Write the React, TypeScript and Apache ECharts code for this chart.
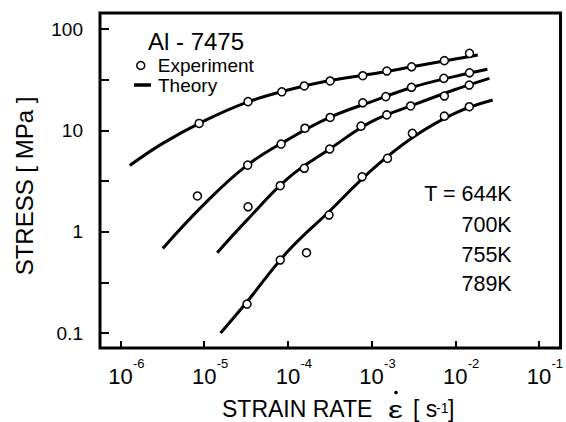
import React, { useEffect, useRef } from 'react';
import * as echarts from 'echarts';

const FONT = "'Liberation Sans', Arial, Helvetica, sans-serif";

// Tick positions (exponents of ten)
const xTickExponents = [-6, -5, -4, -3, -2, -1];
const yLabelExponents = [-1, 0, 1, 2];
const yTickLabels = ['0.1', '1', '10', '100'];
const yTickExponents = [-1, -0.5, 0, 0.5, 1, 1.5, 2];

const temperatures = ['644K', '700K', '755K', '789K'];

// Experiment: [strain rate (1/s), stress (MPa)]
const exp644: [number, number][] = [
  [8.7e-6, 11.7], [3.34e-5, 19.2], [8.46e-5, 24.0], [1.57e-4, 27.4], [3.2e-4, 30.7],
  [7.85e-4, 34.6], [1.52e-3, 38.5], [3.01e-3, 42.4], [7.41e-3, 48.7], [1.48e-2, 57.5],
];
const exp700: [number, number][] = [
  [8.3e-6, 2.25], [3.31e-5, 4.54], [8.3e-5, 7.32], [1.6e-4, 10.5], [3.2e-4, 13.4],
  [7.85e-4, 18.7], [1.48e-3, 21.5], [3.0e-3, 26.6], [7.3e-3, 32.6], [1.48e-2, 37.0],
];
const exp755: [number, number][] = [
  [3.34e-5, 1.76], [8.1e-5, 2.84], [1.57e-4, 4.22], [3.16e-4, 6.54], [7.48e-4, 11.0],
  [1.52e-3, 14.2], [2.93e-3, 17.4], [7.41e-3, 21.8], [1.47e-2, 28.0],
];
const exp789: [number, number][] = [
  [3.25e-5, 0.193], [8.1e-5, 0.525], [1.67e-4, 0.62], [3.1e-4, 1.46], [7.7e-4, 3.48],
  [1.55e-3, 5.29], [3.07e-3, 9.34], [7.41e-3, 13.8], [1.47e-2, 17.1],
];

// Theory curves: [strain rate (1/s), stress (MPa)]
const th644: [number, number][] = [
  [1.29e-6, 4.5], [3.16e-6, 7.4], [1e-5, 12.4], [3.16e-5, 18.8], [1e-4, 25.0],
  [3.16e-4, 31.0], [1e-3, 36.0], [3.16e-3, 42.6], [1e-2, 50.6], [1.86e-2, 55.4],
];
const th700: [number, number][] = [
  [3.2e-6, 0.684], [1e-5, 1.87], [3.16e-5, 4.44], [1e-4, 8.1], [3.16e-4, 13.4],
  [1e-3, 19.2], [3.16e-3, 26.8], [1e-2, 34.1], [2.42e-2, 40.0],
];
const th755: [number, number][] = [
  [1.43e-5, 0.62], [3.16e-5, 1.27], [1e-4, 3.36], [3.16e-4, 6.54], [1e-3, 12.2],
  [3.16e-3, 17.8], [1e-2, 25.3], [2.56e-2, 32.6],
];
const th789: [number, number][] = [
  [1.57e-5, 0.1], [3.16e-5, 0.198], [1e-4, 0.64], [3.16e-4, 1.6], [1e-3, 4.06],
  [3.16e-3, 8.6], [1e-2, 14.8], [2.8e-2, 19.9],
];

const experiments = [exp644, exp700, exp755, exp789];
const theories = [th644, th700, th755, th789];

const X_MIN = -6.245;
const X_MAX = -0.742;
const Y_MIN = -1.148;
const Y_MAX = 2.158;

const toLog = (arr: [number, number][]) => arr.map(([r, s]) => [Math.log10(r), Math.log10(s)]);

export default function App() {
  const ref = useRef<HTMLDivElement>(null);

  useEffect(() => {
    if (!ref.current) return;
    const chart = echarts.init(ref.current, undefined, { renderer: 'svg' });

    const series: any[] = [];
    theories.forEach((t) => {
      series.push({
        name: 'Theory',
        type: 'line',
        data: toLog(t),
        showSymbol: false,
        smooth: 0.4,
        lineStyle: { color: '#000', width: 3 },
        itemStyle: { color: '#000' },
        z: 2,
        silent: true,
      });
    });
    experiments.forEach((e) => {
      series.push({
        name: 'Experiment',
        type: 'scatter',
        data: toLog(e),
        symbol: 'circle',
        symbolSize: 8,
        itemStyle: { color: '#fff', borderColor: '#000', borderWidth: 1.5, opacity: 1 },
        z: 3,
        silent: true,
      });
    });

    const tempY = [194.2, 225.2, 255.2, 284.2];
    const TY = -3; // keep the axis title inside the picture
    const titleText = (text: string, x: number, y: number, fontSize: number, extra: any = {}) => ({
      type: 'text', x, y: y + TY, ...extra,
      style: {
        text, fontFamily: FONT, fontSize, fill: '#000', align: 'left', verticalAlign: 'middle',
        lineHeight: Math.min(fontSize, 19),
      },
    });

    const option: any = {
      animation: false,
      grid: {
        left: 100, top: 13, width: 464.5, height: 335,
        show: true, borderColor: '#000', borderWidth: 3, backgroundColor: 'transparent',
      },
      xAxis: [
        {
          type: 'value', min: X_MIN, max: X_MAX, position: 'bottom',
          axisLine: { show: false, onZero: false }, splitLine: { show: false },
          axisTick: { show: true, inside: true, length: 7, lineStyle: { color: '#000', width: 2 }, customValues: xTickExponents },
          axisLabel: {
            customValues: xTickExponents, formatter: () => '10', margin: 20, lineHeight: 16,
            color: '#000', fontFamily: FONT, fontSize: 22,
          },
        },
        {
          type: 'value', min: X_MIN, max: X_MAX, position: 'bottom',
          axisLine: { show: false, onZero: false }, splitLine: { show: false }, axisTick: { show: false },
          axisLabel: {
            customValues: xTickExponents, formatter: (v: number) => String(Math.round(v)),
            align: 'left', padding: [0, 0, 0, 12.5], margin: 11, lineHeight: 9,
            color: '#000', fontFamily: FONT, fontSize: 13,
          },
        },
      ],
      yAxis: {
        type: 'value', min: Y_MIN, max: Y_MAX,
        axisLine: { show: false, onZero: false }, splitLine: { show: false },
        axisTick: { show: true, inside: true, length: 9, lineStyle: { color: '#000', width: 2 }, customValues: yTickExponents },
        axisLabel: {
          customValues: yLabelExponents,
          formatter: (v: number) => yTickLabels[yLabelExponents.indexOf(Math.round(v))] ?? '',
          margin: 17, color: '#000', fontFamily: FONT, fontSize: 19,
        },
      },
      legend: [
        {
          data: [{ name: 'Experiment', icon: 'circle', itemStyle: { color: '#fff', borderColor: '#000', borderWidth: 1.5 } }],
          left: 136, top: 56, padding: 0, itemWidth: 8, itemHeight: 8, selectedMode: false,
          textStyle: { fontFamily: FONT, fontSize: 19, color: '#000', padding: [0, 0, 0, 8] },
        },
        {
          data: [{ name: 'Theory', icon: 'rect', itemStyle: { color: '#000', borderWidth: 0 } }],
          left: 134, top: 75.5, padding: 0, itemWidth: 17, itemHeight: 3.5, selectedMode: false,
          textStyle: { fontFamily: FONT, fontSize: 19, color: '#000', padding: [0, 0, 0, 2] },
        },
      ],
      graphic: [
        {
          type: 'text', x: 148, y: 41.5,
          style: { text: 'Al - 7475', fontFamily: FONT, fontSize: 24, fill: '#000', align: 'left', verticalAlign: 'middle' },
        },
        ...temperatures.map((t, i) => ({
          type: 'text', x: 511.7, y: tempY[i],
          style: { text: (i === 0 ? 'T = ' : '') + t, fontFamily: FONT, fontSize: 21.5, fill: '#000', align: 'right', verticalAlign: 'middle' },
        })),
        {
          type: 'text', x: 24.5, y: 186, rotation: Math.PI / 2,
          style: { text: 'STRESS [ MPa ]', fontFamily: FONT, fontSize: 24, fill: '#000', align: 'center', verticalAlign: 'middle' },
        },
        titleText('STRAIN RATE', 222, 411.8, 23),
        titleText('ε', 388, 413, 23, { scaleX: 1.45 }),
        { type: 'circle', shape: { cx: 396, cy: 395.5 + TY, r: 1.8 }, style: { fill: '#000' } },
        titleText('[ s', 413, 411.8, 23),
        titleText('-1', 436, 411.2, 14),
        titleText(']', 448, 411.8, 23),
      ],
      series,
    };

    chart.setOption(option);
    return () => chart.dispose();
  }, []);

  return (
    <div
      ref={ref}
      style={{ position: 'fixed', left: 0, top: 0, width: 566, height: 422, background: '#fff' }}
    />
  );
}
